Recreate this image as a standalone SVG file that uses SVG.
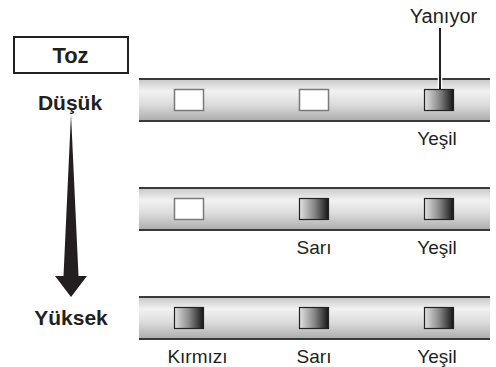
<svg xmlns="http://www.w3.org/2000/svg" width="496" height="367" viewBox="0 0 496 367">
  <style>
    .lbl { font-family: "Liberation Sans", Arial, sans-serif; font-size: 19px; fill: #231f20; text-anchor: middle; }
    .bold { font-family: "Liberation Sans", Arial, sans-serif; font-size: 21px; font-weight: bold; fill: #231f20; text-anchor: middle; }
    .off { fill: #ffffff; stroke: #7a7a7a; stroke-width: 1.5; }
    .on { fill: url(#ledOn); stroke: #222; stroke-width: 1.2; }
    .bar { fill: url(#barGrad); }
    .edge { stroke: #3a3a3a; stroke-width: 2; }
  </style>
  <defs>
    <linearGradient id="barGrad" x1="0" y1="0" x2="0" y2="1">
      <stop offset="0" stop-color="#c4c4c4"/>
      <stop offset="0.3" stop-color="#f2f2f2"/>
      <stop offset="0.6" stop-color="#dcdcdc"/>
      <stop offset="1" stop-color="#a9a9a9"/>
    </linearGradient>
    <linearGradient id="ledOn" x1="0" y1="0" x2="1" y2="0">
      <stop offset="0" stop-color="#e2e2e2"/>
      <stop offset="0.5" stop-color="#8a8a8a"/>
      <stop offset="1" stop-color="#151515"/>
    </linearGradient>
  </defs>
  <rect width="496" height="367" fill="#ffffff"/>

  <g id="toz">
    <rect x="14" y="37" width="114" height="36" fill="#ffffff" stroke="#231f20" stroke-width="2"/>
    <text class="bold" x="70.5" y="63" style="font-size:22px">Toz</text>
  </g>

  <g id="dusuk">
    <text class="bold" x="70" y="110">Düşük</text>
  </g>

  <g id="yuksek">
    <text class="bold" x="71" y="325">Yüksek</text>
  </g>

  <g id="bar1">
    <rect class="bar" x="139" y="78" width="351" height="44"/>
    <line class="edge" x1="139" y1="79" x2="490" y2="79"/>
    <line class="edge" x1="139" y1="121" x2="490" y2="121"/>
    <rect class="off" x="174.5" y="89.5" width="29" height="21"/>
    <rect class="off" x="299.5" y="89.5" width="29" height="21"/>
    <rect class="on" x="424.5" y="89.5" width="29" height="21"/>
    <text class="lbl" x="437" y="145">Yeşil</text>
  </g>

  <g id="bar2">
    <rect class="bar" x="139" y="187" width="351" height="44"/>
    <line class="edge" x1="139" y1="188" x2="490" y2="188"/>
    <line class="edge" x1="139" y1="230" x2="490" y2="230"/>
    <rect class="off" x="174.5" y="198.5" width="29" height="21"/>
    <rect class="on" x="299.5" y="198.5" width="29" height="21"/>
    <rect class="on" x="424.5" y="198.5" width="29" height="21"/>
    <text class="lbl" x="314" y="254">Sarı</text>
    <text class="lbl" x="437" y="254">Yeşil</text>
  </g>

  <g id="bar3">
    <rect class="bar" x="139" y="296" width="351" height="44"/>
    <line class="edge" x1="139" y1="297" x2="490" y2="297"/>
    <line class="edge" x1="139" y1="339" x2="490" y2="339"/>
    <rect class="on" x="174.5" y="307.5" width="29" height="21"/>
    <rect class="on" x="299.5" y="307.5" width="29" height="21"/>
    <rect class="on" x="424.5" y="307.5" width="29" height="21"/>
    <text class="lbl" x="197.5" y="363">Kırmızı</text>
    <text class="lbl" x="314" y="363">Sarı</text>
    <text class="lbl" x="437" y="363">Yeşil</text>
  </g>

  <g id="yaniyor">
    <text class="lbl" x="443.5" y="23" style="font-size:20px">Yanıyor</text>
  </g>

  <g id="connectors">
    <line x1="440" y1="77" x2="440" y2="89" stroke="#ffffff" stroke-width="4.5"/>
    <line x1="440" y1="28" x2="440" y2="89" stroke="#231f20" stroke-width="2"/>
    <polygon points="71,114 78.5,276 87,276 71,297 55,276 63.5,276" fill="#231f20"/>
  </g>
</svg>
